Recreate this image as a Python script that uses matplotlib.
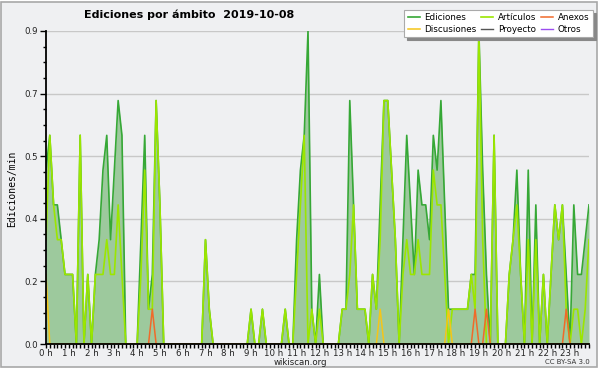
import matplotlib.pyplot as plt
import numpy as np
from matplotlib.patches import Rectangle
from matplotlib.ticker import FixedLocator, MultipleLocator

# 10-minute bins over the day, values in edits/min
horas = np.arange(144) / 6.0

ediciones = [
    0.5, 0.6, 0.4, 0.4, 0.3, 0.2, 0.2, 0.2, 0.0, 0.6, 0.0, 0.2,
    0.0, 0.2, 0.3, 0.5, 0.6, 0.3, 0.5, 0.7, 0.6, 0.0, 0.0, 0.0,
    0.0, 0.3, 0.6, 0.1, 0.2, 0.7, 0.4, 0.0, 0.0, 0.0, 0.0, 0.0,
    0.0, 0.0, 0.0, 0.0, 0.0, 0.0, 0.3, 0.1, 0.0, 0.0, 0.0, 0.0,
    0.0, 0.0, 0.0, 0.0, 0.0, 0.0, 0.1, 0.0, 0.0, 0.1, 0.0, 0.0,
    0.0, 0.0, 0.0, 0.1, 0.0, 0.0, 0.3, 0.5, 0.6, 0.9, 0.1, 0.0,
    0.2, 0.0, 0.0, 0.0, 0.0, 0.0, 0.1, 0.1, 0.7, 0.4, 0.1, 0.1,
    0.1, 0.0, 0.2, 0.1, 0.4, 0.7, 0.7, 0.5, 0.3, 0.0, 0.3, 0.6,
    0.4, 0.2, 0.5, 0.4, 0.4, 0.3, 0.6, 0.5, 0.7, 0.4, 0.1, 0.1,
    0.1, 0.1, 0.1, 0.1, 0.2, 0.2, 0.9, 0.5, 0.2, 0.0, 0.6, 0.0,
    0.0, 0.0, 0.2, 0.3, 0.5, 0.2, 0.0, 0.5, 0.0, 0.4, 0.0, 0.2,
    0.0, 0.2, 0.4, 0.3, 0.4, 0.2, 0.0, 0.4, 0.2, 0.2, 0.3, 0.4,
]

articulos = [
    0.3, 0.6, 0.4, 0.3, 0.3, 0.2, 0.2, 0.2, 0.0, 0.6, 0.0, 0.2,
    0.0, 0.2, 0.2, 0.2, 0.3, 0.2, 0.2, 0.4, 0.2, 0.0, 0.0, 0.0,
    0.0, 0.2, 0.5, 0.1, 0.1, 0.7, 0.4, 0.0, 0.0, 0.0, 0.0, 0.0,
    0.0, 0.0, 0.0, 0.0, 0.0, 0.0, 0.3, 0.1, 0.0, 0.0, 0.0, 0.0,
    0.0, 0.0, 0.0, 0.0, 0.0, 0.0, 0.1, 0.0, 0.0, 0.1, 0.0, 0.0,
    0.0, 0.0, 0.0, 0.1, 0.0, 0.0, 0.2, 0.4, 0.6, 0.0, 0.1, 0.0,
    0.1, 0.0, 0.0, 0.0, 0.0, 0.0, 0.1, 0.1, 0.2, 0.4, 0.1, 0.1,
    0.1, 0.0, 0.2, 0.1, 0.3, 0.7, 0.7, 0.5, 0.3, 0.0, 0.2, 0.3,
    0.2, 0.2, 0.3, 0.2, 0.2, 0.2, 0.5, 0.4, 0.4, 0.2, 0.0, 0.1,
    0.1, 0.1, 0.1, 0.1, 0.2, 0.1, 0.9, 0.3, 0.0, 0.0, 0.6, 0.0,
    0.0, 0.0, 0.2, 0.3, 0.4, 0.2, 0.0, 0.3, 0.0, 0.3, 0.0, 0.2,
    0.0, 0.2, 0.4, 0.3, 0.4, 0.1, 0.0, 0.1, 0.1, 0.0, 0.1, 0.3,
]

# sparse series: bin index -> value
anexos_bins = [28, 113, 116, 137]
anexos_vals = [0.1, 0.1, 0.1, 0.1]
discusiones_bins = [0, 88, 106]
discusiones_vals = [0.2, 0.1, 0.1]

anexos = np.zeros(144)
anexos[anexos_bins] = anexos_vals
discusiones = np.zeros(144)
discusiones[discusiones_bins] = discusiones_vals
proyecto = np.zeros(144)
otros = np.zeros(144)

bg = '#eff0f2'
fig = plt.figure(figsize=(6, 3.7), dpi=100, facecolor='white')
frame = Rectangle((1 / 600, 3 / 370), 596 / 600, 365 / 370,
                  transform=fig.transFigure, facecolor=bg,
                  edgecolor='#a8a8a8', lw=1.2, zorder=-5)
fig.add_artist(frame)

ax = fig.add_axes([46 / 600, 1 - 344 / 370, 543 / 600, 313 / 370])
ax.set_zorder(1)
ax.patch.set_alpha(0)

ax.fill_between(horas, ediciones, color='#9dc99d', lw=0, zorder=1)
l_ed, = ax.plot(horas, ediciones, color='#36a836', lw=1.2, zorder=2)
l_art, = ax.plot(horas, articulos, color='#9be600', lw=1.2, zorder=2.1)
l_an, = ax.plot(horas, anexos, color='#f06a2a', lw=1.1, zorder=2.2)
l_dis, = ax.plot(horas, discusiones, color='#f5c518', lw=1.1, zorder=2.2)
l_pro, = ax.plot(horas, proyecto, color='#555555', lw=1.0, zorder=1.5)
l_otr, = ax.plot(horas, otros, color='#9b4df0', lw=1.0, zorder=1.5)

ax.set_xlim(0, 143 / 6)
ax.set_ylim(0, 0.9)

yt = [0, 0.18, 0.36, 0.54, 0.72, 0.9]
ax.yaxis.set_major_locator(FixedLocator(yt))
ax.set_yticklabels(['%.1f' % v for v in yt])
ax.yaxis.set_minor_locator(MultipleLocator(0.045))
ax.xaxis.set_major_locator(FixedLocator(range(24)))
ax.set_xticklabels(['%d h' % h for h in range(24)])
ax.xaxis.set_minor_locator(MultipleLocator(1 / 6))

ax.tick_params(axis='both', which='major', labelsize=6.2, color='black',
               width=1, pad=1.5, labelcolor='#222222')
ax.tick_params(axis='y', which='major', length=4.3)
ax.tick_params(axis='y', which='minor', length=2.4, width=1)
ax.tick_params(axis='x', which='major', length=3, pad=0.5)
ax.tick_params(axis='x', which='minor', length=3, width=1)

ax.grid(axis='y', which='major', color='#c8c8c8', lw=1)
ax.set_axisbelow(True)
for s in ['top', 'right']:
    ax.spines[s].set_visible(False)
for s in ['left', 'bottom']:
    ax.spines[s].set_linewidth(1.3)
    ax.spines[s].set_zorder(3)

fig.text(189 / 600, 1 - 15 / 370, 'Ediciones por ámbito  2019-10-08',
         ha='center', va='center', fontsize=8, weight='bold')
fig.text(12 / 600, 1 - 189 / 370, 'Ediciones/min', rotation=90,
         ha='center', va='center', fontsize=7, family='DejaVu Sans Mono')
fig.text(300 / 600, 1 - 362.5 / 370, 'wikiscan.org', ha='center',
         va='center', fontsize=6.2, color='#222222')
fig.text(590 / 600, 1 - 362.5 / 370, 'CC BY-SA 3.0', ha='right',
         va='center', fontsize=5, color='#333333')

leg = fig.legend([l_ed, l_dis, l_art, l_pro, l_an, l_otr],
                 ['Ediciones', 'Discusiones', 'Artículos', 'Proyecto',
                  'Anexos', 'Otros'],
                 loc='upper left', bbox_to_anchor=(404 / 600, 1 - 10 / 370),
                 ncol=3, fontsize=6.3, frameon=True, fancybox=False,
                 shadow={'color': '#888888', 'alpha': 1},
                 framealpha=1, edgecolor='#aaaaaa',
                 handlelength=1.4, handletextpad=0.5, columnspacing=0.55,
                 labelspacing=0.25, borderpad=0.4, borderaxespad=0)
leg.get_frame().set_linewidth(0.8)
leg.set_zorder(5)

fig.savefig('out.png', dpi=100, facecolor=fig.get_facecolor())
